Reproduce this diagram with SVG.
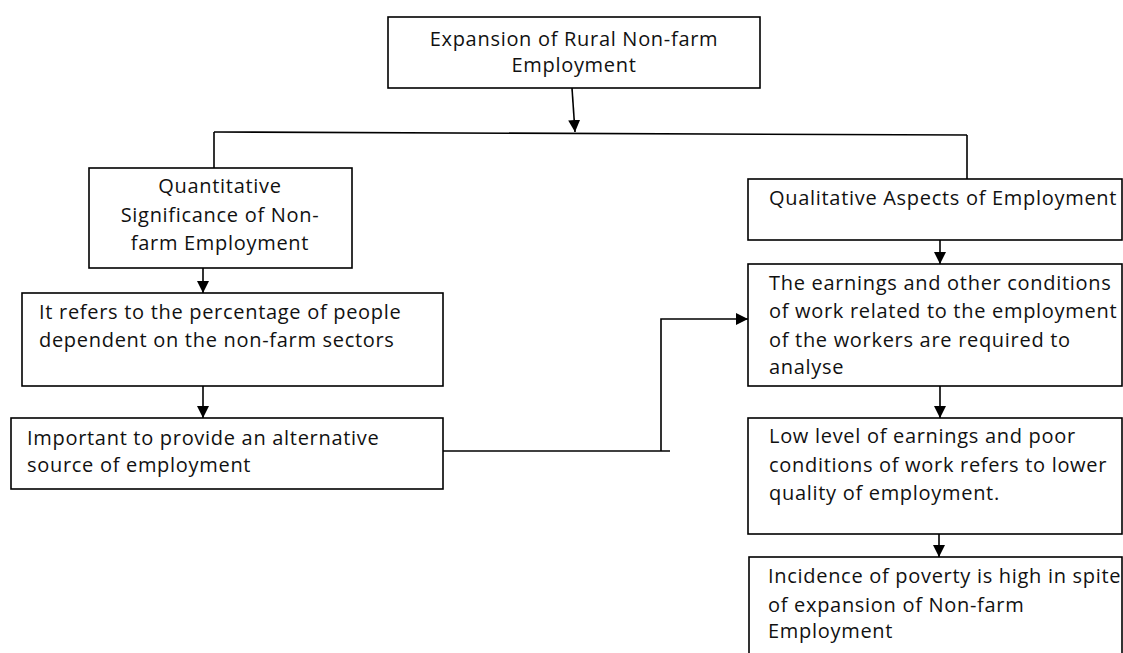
<svg xmlns="http://www.w3.org/2000/svg" width="1123" height="653" viewBox="0 0 1123 653">
<defs>
<marker id="ah" markerUnits="userSpaceOnUse" markerWidth="12" markerHeight="12" viewBox="0 0 12 12" refX="12" refY="6" orient="auto">
<path d="M0,0 L12,6 L0,12 Z" fill="#000"/>
</marker>
<style>
.box{fill:#fff;stroke:#000;stroke-width:1.6}
.t{font-family:"Open Sans","Liberation Sans",sans-serif;font-size:20px;letter-spacing:0.7px;fill:#111}
.c{text-anchor:middle}
.ln{fill:none;stroke:#000;stroke-width:1.6}
</style>
</defs>
<rect width="1123" height="653" fill="#fff"/>
<g id="connectors">
<line class="ln" x1="572" y1="88" x2="575" y2="132" marker-end="url(#ah)"/>
<line class="ln" x1="214" y1="132" x2="967" y2="135"/>
<line class="ln" x1="214" y1="132" x2="214" y2="168"/>
<line class="ln" x1="967" y1="135" x2="967" y2="179"/>
<line class="ln" x1="203" y1="268" x2="203" y2="293" marker-end="url(#ah)"/>
<line class="ln" x1="203" y1="386" x2="203" y2="418" marker-end="url(#ah)"/>
<line class="ln" x1="940" y1="240" x2="940" y2="264" marker-end="url(#ah)"/>
<line class="ln" x1="940" y1="386" x2="940" y2="418" marker-end="url(#ah)"/>
<line class="ln" x1="939" y1="534" x2="939" y2="557" marker-end="url(#ah)"/>
<line class="ln" x1="443" y1="451" x2="670" y2="451"/>
<polyline class="ln" points="661,451 661,319 748,319" marker-end="url(#ah)"/>
</g>
<g id="n-top">
<rect class="box" x="388" y="17" width="372" height="71"/>
<text class="t c" x="574" y="46">Expansion of Rural Non-farm</text>
<text class="t c" x="574" y="72">Employment</text>
</g>
<g id="n-quant">
<rect class="box" x="89" y="168" width="263" height="100"/>
<text class="t c" x="220" y="193">Quantitative</text>
<text class="t c" x="220" y="222">Significance of Non-</text>
<text class="t c" x="220" y="250">farm Employment</text>
</g>
<g id="n-refers">
<rect class="box" x="22" y="293" width="421" height="93"/>
<text class="t" x="39" y="319">It refers to the percentage of people</text>
<text class="t" x="39" y="347">dependent on the non-farm sectors</text>
</g>
<g id="n-important">
<rect class="box" x="11" y="418" width="432" height="71"/>
<text class="t" x="27" y="445">Important to provide an alternative</text>
<text class="t" x="27" y="472">source of employment</text>
</g>
<g id="n-qual">
<rect class="box" x="748" y="179" width="374" height="61"/>
<text class="t" x="769" y="205">Qualitative Aspects of Employment</text>
</g>
<g id="n-earnings">
<rect class="box" x="748" y="264" width="374" height="122"/>
<text class="t" x="769" y="290">The earnings and other conditions</text>
<text class="t" x="769" y="318">of work related to the employment</text>
<text class="t" x="769" y="347">of the workers are required to</text>
<text class="t" x="769" y="374">analyse</text>
</g>
<g id="n-low">
<rect class="box" x="748" y="418" width="374" height="116"/>
<text class="t" x="769" y="443">Low level of earnings and poor</text>
<text class="t" x="769" y="472">conditions of work refers to lower</text>
<text class="t" x="769" y="500">quality of employment.</text>
</g>
<g id="n-poverty">
<rect class="box" x="749" y="557" width="373" height="110"/>
<text class="t" x="768" y="583">Incidence of poverty is high in spite</text>
<text class="t" x="768" y="612">of expansion of Non-farm</text>
<text class="t" x="768" y="638">Employment</text>
</g>
</svg>
